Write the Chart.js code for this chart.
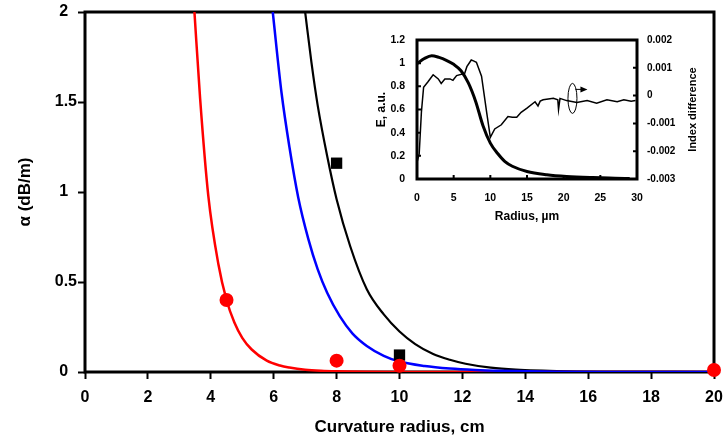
<!DOCTYPE html>
<html>
<head>
<meta charset="utf-8">
<script src="https://cdn.jsdelivr.net/npm/chart.js@4.4.1/dist/chart.umd.min.js"></script>
<style>
  html, body { margin: 0; padding: 0; background: #fff; }
  #wrap { position: relative; width: 724px; height: 440px; }
  #main { position: absolute; left: 0; top: 0; }
  #inset { position: absolute; left: 360px; top: 25px; }
</style>
</head>
<body>
<div id="wrap">
  <canvas id="main" width="724" height="440"></canvas>
  <canvas id="inset" width="345" height="205"></canvas>
</div>
<script>
// loss curves, alpha (dB/m) vs curvature radius (cm)
const redRadius = [3.48, 3.66, 3.92, 4.24, 4.5, 4.75, 5.0, 5.3, 5.78, 6.2, 6.5, 7.0, 7.5, 8, 9, 10, 12, 20];
const redLoss = [2.0, 1.52, 0.98, 0.60, 0.40, 0.275, 0.19, 0.125, 0.063, 0.036, 0.025, 0.013, 0.007, 0.004, 0.0015, 0.0006, 0.0001, 0];
const blueRadius = [5.97, 6.25, 6.5, 6.78, 7.1, 7.4, 7.7, 8.1, 8.5, 8.96, 9.5, 10, 10.8, 11.6, 12.4, 13.2, 15, 17, 20];
const blueLoss = [2.0, 1.55, 1.25, 0.97, 0.74, 0.57, 0.44, 0.31, 0.215, 0.145, 0.09, 0.058, 0.033, 0.019, 0.011, 0.0065, 0.002, 0.0005, 0];
const blackRadius = [7.0, 7.2, 7.4, 7.7, 8.0, 8.43, 8.96, 9.5, 10.0, 10.5, 11.07, 11.6, 12.1, 12.9, 13.7, 15.3, 17, 20];
const blackLoss = [2.0, 1.72, 1.48, 1.2, 0.96, 0.70, 0.46, 0.32, 0.225, 0.155, 0.10, 0.068, 0.046, 0.024, 0.013, 0.004, 0.001, 0];

// measured points
const circleRadius = [4.5, 8, 10, 20];
const circleLoss = [0.40, 0.063, 0.035, 0.011];
const squareRadius = [8, 10];
const squareLoss = [1.16, 0.094];

const xTicks = [0, 2, 4, 6, 8, 10, 12, 14, 16, 18, 20];
const yTicks = [0, 0.5, 1, 1.5, 2];
// whole numbers keep a digit-wide gap on the right, like the decimals
const yLabels = ['0\u2007', '0.5', '1\u2007', '1.5', '2\u2007'];

// inset: field profile and index difference vs radius (um)
const fieldRadius = [0, 1, 2, 3, 4, 5, 6, 7, 8, 9, 10, 11, 12, 13, 15, 17.7, 20.4, 24, 27, 29];
const fieldE = [0.995, 1.04, 1.065, 1.05, 1.025, 0.99, 0.935, 0.83, 0.67, 0.46, 0.31, 0.22, 0.15, 0.11, 0.065, 0.037, 0.022, 0.012, 0.007, 0.004];
const indexRadius = [0, 0.3, 0.6, 0.9, 1.5, 2.2, 2.9, 3.3, 3.8, 4.5, 4.9, 5.4, 6.5, 6.8, 7.4, 7.7, 8.1, 8.8, 9.5, 10.0,
  10.6, 11.5, 12.4, 13.0, 13.6, 14.2, 15.0, 16.1, 16.5, 16.8, 17.2, 18.6, 19.2, 19.3, 19.5, 20.4, 21.8, 23.2, 24.5, 25.9, 27.3, 28.2, 29.2, 29.8];
const indexDiff = [-0.0024, -0.0021, -0.0006, 0.0003, 0.0005, 0.00075, 0.0006, 0.00044, 0.0006, 0.0006, 0.00055, 0.00072, 0.0008, 0.00104, 0.00128, 0.00125, 0.0012, 0.0007, -0.0006, -0.0015,
  -0.0012, -0.00105, -0.00075, -0.00078, -0.00078, -0.0006, -0.00045, -0.00022, -0.00037, -0.0002, -0.00015, -0.0001, -0.00015, -0.0005, -0.0001, -0.00018, -0.00025, -0.00018, -0.00027, -0.00015, -0.00022, -0.00015, -0.0002, -0.00018];

const insetXTicks = [0, 5, 10, 15, 20, 25, 30];
const insetETicks = [0, 0.2, 0.4, 0.6, 0.8, 1, 1.2];
const insetELabels = ['0', '0.2', '0.4', '0.6', '0.8', '1', '1.2'];
const insetIndexTicks = [-0.003, -0.002, -0.001, 0, 0.001, 0.002];
const insetIndexLabels = ['-0.003', '-0.002', '-0.001', '0', '0.001', '0.002'];
const loopAt = [21.2, -0.0001];

const FAMILY = "'Liberation Sans', Arial, Helvetica, sans-serif";
const bold = (size) => ({ family: FAMILY, size: size, weight: 'bold' });
const pts = (xs, ys) => xs.map((x, i) => ({ x: x, y: ys[i] }));
const fixedTicks = (list) => (scale) => { scale.ticks = list.map(v => ({ value: v })); };
// fixed axis box; end labels may hang over the plot edges
const fixedWidth = (w) => (s) => { s.width = w; s.paddingTop = 0; s.paddingBottom = 0; };
const fixedHeight = (h) => (s) => { s.height = h; s.paddingLeft = 0; s.paddingRight = 0; };

Chart.defaults.color = '#000';
Chart.defaults.font.family = FAMILY;
Chart.defaults.font.weight = 'bold';

// box around the plot area, drawn under the data
const framePlugin = {
  id: 'frame',
  beforeDatasetsDraw(chart, args, opts) {
    const { ctx, chartArea: a } = chart;
    ctx.save();
    ctx.strokeStyle = '#000';
    ctx.lineWidth = opts.width || 3;
    ctx.strokeRect(a.left, a.top, a.right - a.left, a.bottom - a.top);
    ctx.restore();
  }
};

const curve = (label, xs, ys, color, width) => ({
  label: label,
  data: pts(xs, ys),
  showLine: true,
  borderColor: color,
  borderWidth: width,
  pointRadius: 0,
  cubicInterpolationMode: 'monotone',
  fill: false
});

new Chart(document.getElementById('main'), {
  type: 'scatter',
  data: {
    datasets: [
      { label: 'measured', data: pts(circleRadius, circleLoss), pointStyle: 'circle', pointRadius: 7,
        backgroundColor: '#ff0000', borderColor: '#ff0000', borderWidth: 0, clip: false },
      { label: 'measured', data: pts(squareRadius, squareLoss), pointStyle: 'rect', pointRadius: 8,
        backgroundColor: '#000', borderColor: '#000', borderWidth: 0, clip: false },
      curve('blue', blueRadius, blueLoss, '#0000ff', 2.5),
      curve('red', redRadius, redLoss, '#ff0000', 2.5),
      curve('black', blackRadius, blackLoss, '#000000', 2.2)
    ]
  },
  options: {
    responsive: false,
    devicePixelRatio: 1,
    animation: false,
    events: [],
    layout: { padding: { top: 12, right: 10, left: 0, bottom: 0 } },
    plugins: { legend: { display: false }, tooltip: { enabled: false }, frame: { width: 3 } },
    scales: {
      x: {
        type: 'linear', min: 0, max: 20,
        afterBuildTicks: fixedTicks(xTicks),
        afterFit: fixedHeight(68),
        border: { display: false },
        grid: { display: true, drawOnChartArea: false, drawTicks: true, tickLength: 7, tickWidth: 2, tickColor: '#000' },
        ticks: { font: bold(16), padding: 9, maxRotation: 0, autoSkip: false },
        title: { display: true, text: 'Curvature radius, cm', font: bold(17), padding: { top: 0, bottom: 2 } }
      },
      y: {
        type: 'linear', min: 0, max: 2,
        afterBuildTicks: fixedTicks(yTicks),
        afterFit: fixedWidth(85),
        border: { display: false },
        grid: { display: true, drawOnChartArea: false, drawTicks: true, tickLength: 7, tickWidth: 2, tickColor: '#000' },
        ticks: { font: bold(16), padding: 1, autoSkip: false, callback: (v, i) => yLabels[i] },
        title: { display: true, text: 'α (dB/m)', font: bold(17), padding: { top: 15, bottom: 0 } }
      }
    }
  },
  plugins: [framePlugin]
});

// inward tick marks, right-hand title and the loop arrow of the inset
const insetMarks = {
  id: 'insetMarks',
  afterDraw(chart) {
    const { ctx, chartArea: a, scales } = chart;
    ctx.save();
    ctx.strokeStyle = '#000';
    ctx.fillStyle = '#000';
    ctx.lineWidth = 2;
    ctx.beginPath();
    insetXTicks.slice(1, -1).forEach(v => {
      const px = scales.x.getPixelForValue(v);
      ctx.moveTo(px, a.bottom); ctx.lineTo(px, a.bottom - 4);
    });
    insetETicks.slice(1, -1).forEach(v => {
      const py = scales.y.getPixelForValue(v);
      ctx.moveTo(a.left, py); ctx.lineTo(a.left + 4, py);
    });
    insetIndexTicks.slice(1, -1).forEach(v => {
      const py = scales.y1.getPixelForValue(v);
      ctx.moveTo(a.right, py); ctx.lineTo(a.right - 4, py);
    });
    ctx.stroke();

    // loop with arrow pointing to the right axis
    const cx = scales.x.getPixelForValue(loopAt[0]);
    const cy = scales.y1.getPixelForValue(loopAt[1]);
    ctx.lineWidth = 1;
    ctx.beginPath();
    ctx.ellipse(cx, cy, 4.5, 15, 0, 0, 2 * Math.PI);
    ctx.stroke();
    ctx.beginPath();
    ctx.moveTo(cx + 3, cy - 9); ctx.lineTo(cx + 9, cy - 9);
    ctx.stroke();
    ctx.beginPath();
    ctx.moveTo(cx + 8, cy - 12); ctx.lineTo(cx + 15, cy - 9); ctx.lineTo(cx + 8, cy - 6);
    ctx.closePath();
    ctx.fill();

    const s = scales.y1;
    ctx.translate(s.right - 12, (a.top + a.bottom) / 2);
    ctx.rotate(-Math.PI / 2);
    ctx.font = 'bold 11px ' + FAMILY;
    ctx.textAlign = 'center';
    ctx.textBaseline = 'middle';
    ctx.fillText('Index difference', 0, 0);
    ctx.restore();
  }
};

new Chart(document.getElementById('inset'), {
  type: 'scatter',
  data: {
    datasets: [
      Object.assign(curve('E', fieldRadius, fieldE, '#000', 3), { yAxisID: 'y' }),
      Object.assign(curve('index', indexRadius, indexDiff, '#000', 1.5), { yAxisID: 'y1', cubicInterpolationMode: 'default', tension: 0 })
    ]
  },
  options: {
    responsive: false,
    devicePixelRatio: 1,
    animation: false,
    events: [],
    layout: { padding: { top: 15, right: 0, left: 0, bottom: 0 } },
    plugins: { legend: { display: false }, tooltip: { enabled: false }, frame: { width: 3 } },
    scales: {
      x: {
        type: 'linear', min: 0, max: 30,
        afterBuildTicks: fixedTicks(insetXTicks),
        afterFit: fixedHeight(51),
        border: { display: false },
        grid: { display: false, drawTicks: false },
        ticks: { font: bold(10.5), padding: 13, maxRotation: 0, autoSkip: false },
        title: { display: true, text: 'Radius, µm', font: bold(12), padding: { top: 0, bottom: 6 } }
      },
      y: {
        type: 'linear', position: 'left', min: 0, max: 1.2,
        afterBuildTicks: fixedTicks(insetETicks),
        afterFit: fixedWidth(57),
        border: { display: false },
        grid: { display: false, drawTicks: false },
        ticks: { font: bold(10.5), padding: 12, autoSkip: false, callback: (v, i) => insetELabels[i] },
        title: { display: true, text: 'E, a.u.', font: bold(12), padding: { top: 14, bottom: 0 } }
      },
      y1: {
        type: 'linear', position: 'right', min: -0.003, max: 0.002,
        afterBuildTicks: fixedTicks(insetIndexTicks),
        afterFit: fixedWidth(68),
        border: { display: false },
        grid: { display: false, drawTicks: false },
        ticks: {
          font: bold(10), padding: 10, autoSkip: false,
          callback: (v, i) => insetIndexLabels[i]
        },
        title: { display: false }
      }
    }
  },
  plugins: [framePlugin, insetMarks]
});
</script>
</body>
</html>
